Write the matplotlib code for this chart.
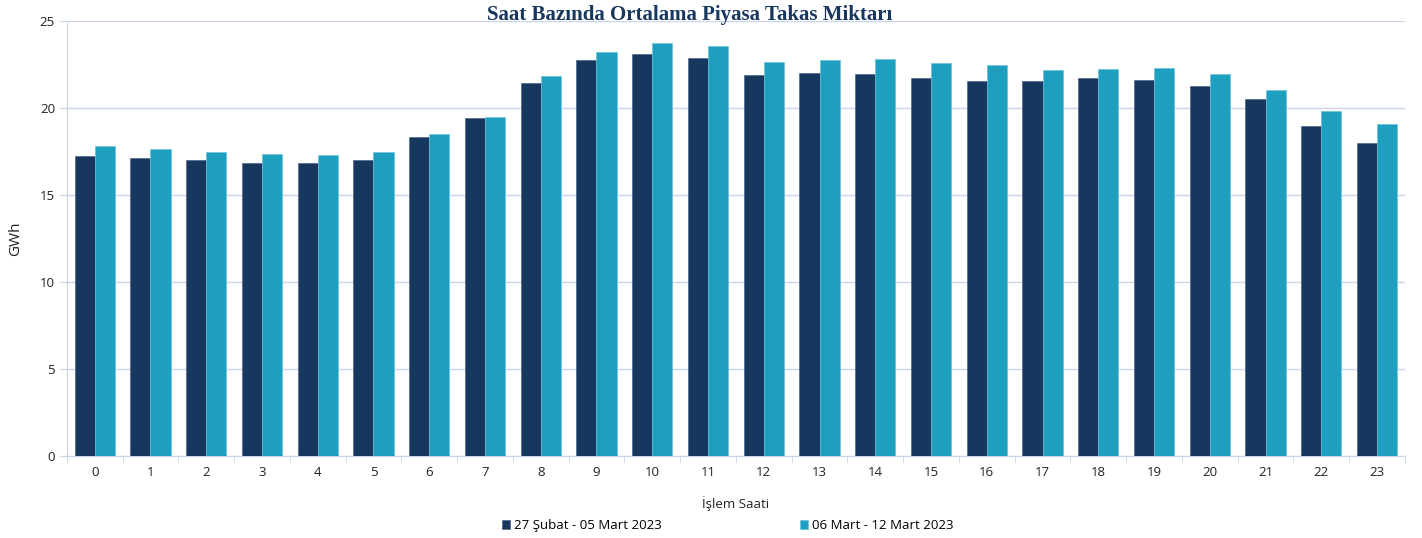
import matplotlib.pyplot as plt
import numpy as np

hours = list(range(24))
donem1 = [17.24, 17.13, 17.01, 16.84, 16.84, 17.01, 18.33, 19.43, 21.44, 22.76, 23.10, 22.87,
          21.90, 22.00, 21.95, 21.70, 21.55, 21.55, 21.72, 21.60, 21.26, 20.52, 18.97, 17.99]
donem2 = [17.82, 17.64, 17.47, 17.36, 17.30, 17.47, 18.50, 19.48, 21.84, 23.20, 23.74, 23.56,
          22.64, 22.76, 22.80, 22.60, 22.47, 22.18, 22.24, 22.30, 21.95, 21.03, 19.83, 19.08]
labels = ["27 Şubat - 05 Mart 2023", "06 Mart - 12 Mart 2023"]

dark = "#17375e"
light = "#1f9fc0"
grid_c = "#c9d6ea"

plt.rcParams['font.family'] = ['Open Sans', 'DejaVu Sans']

fig = plt.figure(figsize=(14.22, 5.38), dpi=100)
ax = fig.add_axes([0.047, 0.152, 0.941, 0.809])

x = np.arange(len(hours))
w = 0.36
ax.bar(x - w / 2, donem1, w, color=dark, edgecolor="#4f6587", linewidth=0.5, label=labels[0], zorder=3)
ax.bar(x + w / 2, donem2, w, color=light, edgecolor="#6cc3da", linewidth=0.5, label=labels[1], zorder=3)

ax.set_xlim(-0.5, 23.5)
ax.set_ylim(0, 25)
ax.set_yticks(range(0, 26, 5))
ax.set_xticks(x)
ax.set_xticklabels([str(h) for h in hours], fontsize=9.5, color="#222222")
ax.set_xticks(np.arange(-0.5, 24, 1), minor=True)
ax.tick_params(axis="x", which="major", length=0, pad=7)
ax.tick_params(axis="x", which="minor", length=5, color=grid_c)
ax.tick_params(axis="y", length=5, color=grid_c, labelsize=9.5, labelcolor="#222222")
ax.grid(axis="y", color=grid_c, linewidth=1, zorder=0)

for s in ["top", "right"]:
    ax.spines[s].set_visible(False)
ax.spines["left"].set_color(grid_c)
ax.spines["bottom"].set_color(grid_c)

ax.set_ylabel("GWh", fontsize=11, color="#222222", labelpad=12)
ax.set_xlabel("İşlem Saati", fontsize=9.5, color="#222222", labelpad=12)

fig.text(0.485, 0.972, "Saat Bazında Ortalama Piyasa Takas Miktarı", ha="center", va="center",
         fontsize=15, fontweight="bold", color="#17375e", family="Liberation Serif")

fig.legend(loc="center", bbox_to_anchor=(0.512, 0.023), ncol=2, frameon=False, fontsize=9.5,
           handlelength=0.6, handleheight=0.6, handletextpad=0.3, columnspacing=10.5)

fig.savefig("out.png", dpi=100)
